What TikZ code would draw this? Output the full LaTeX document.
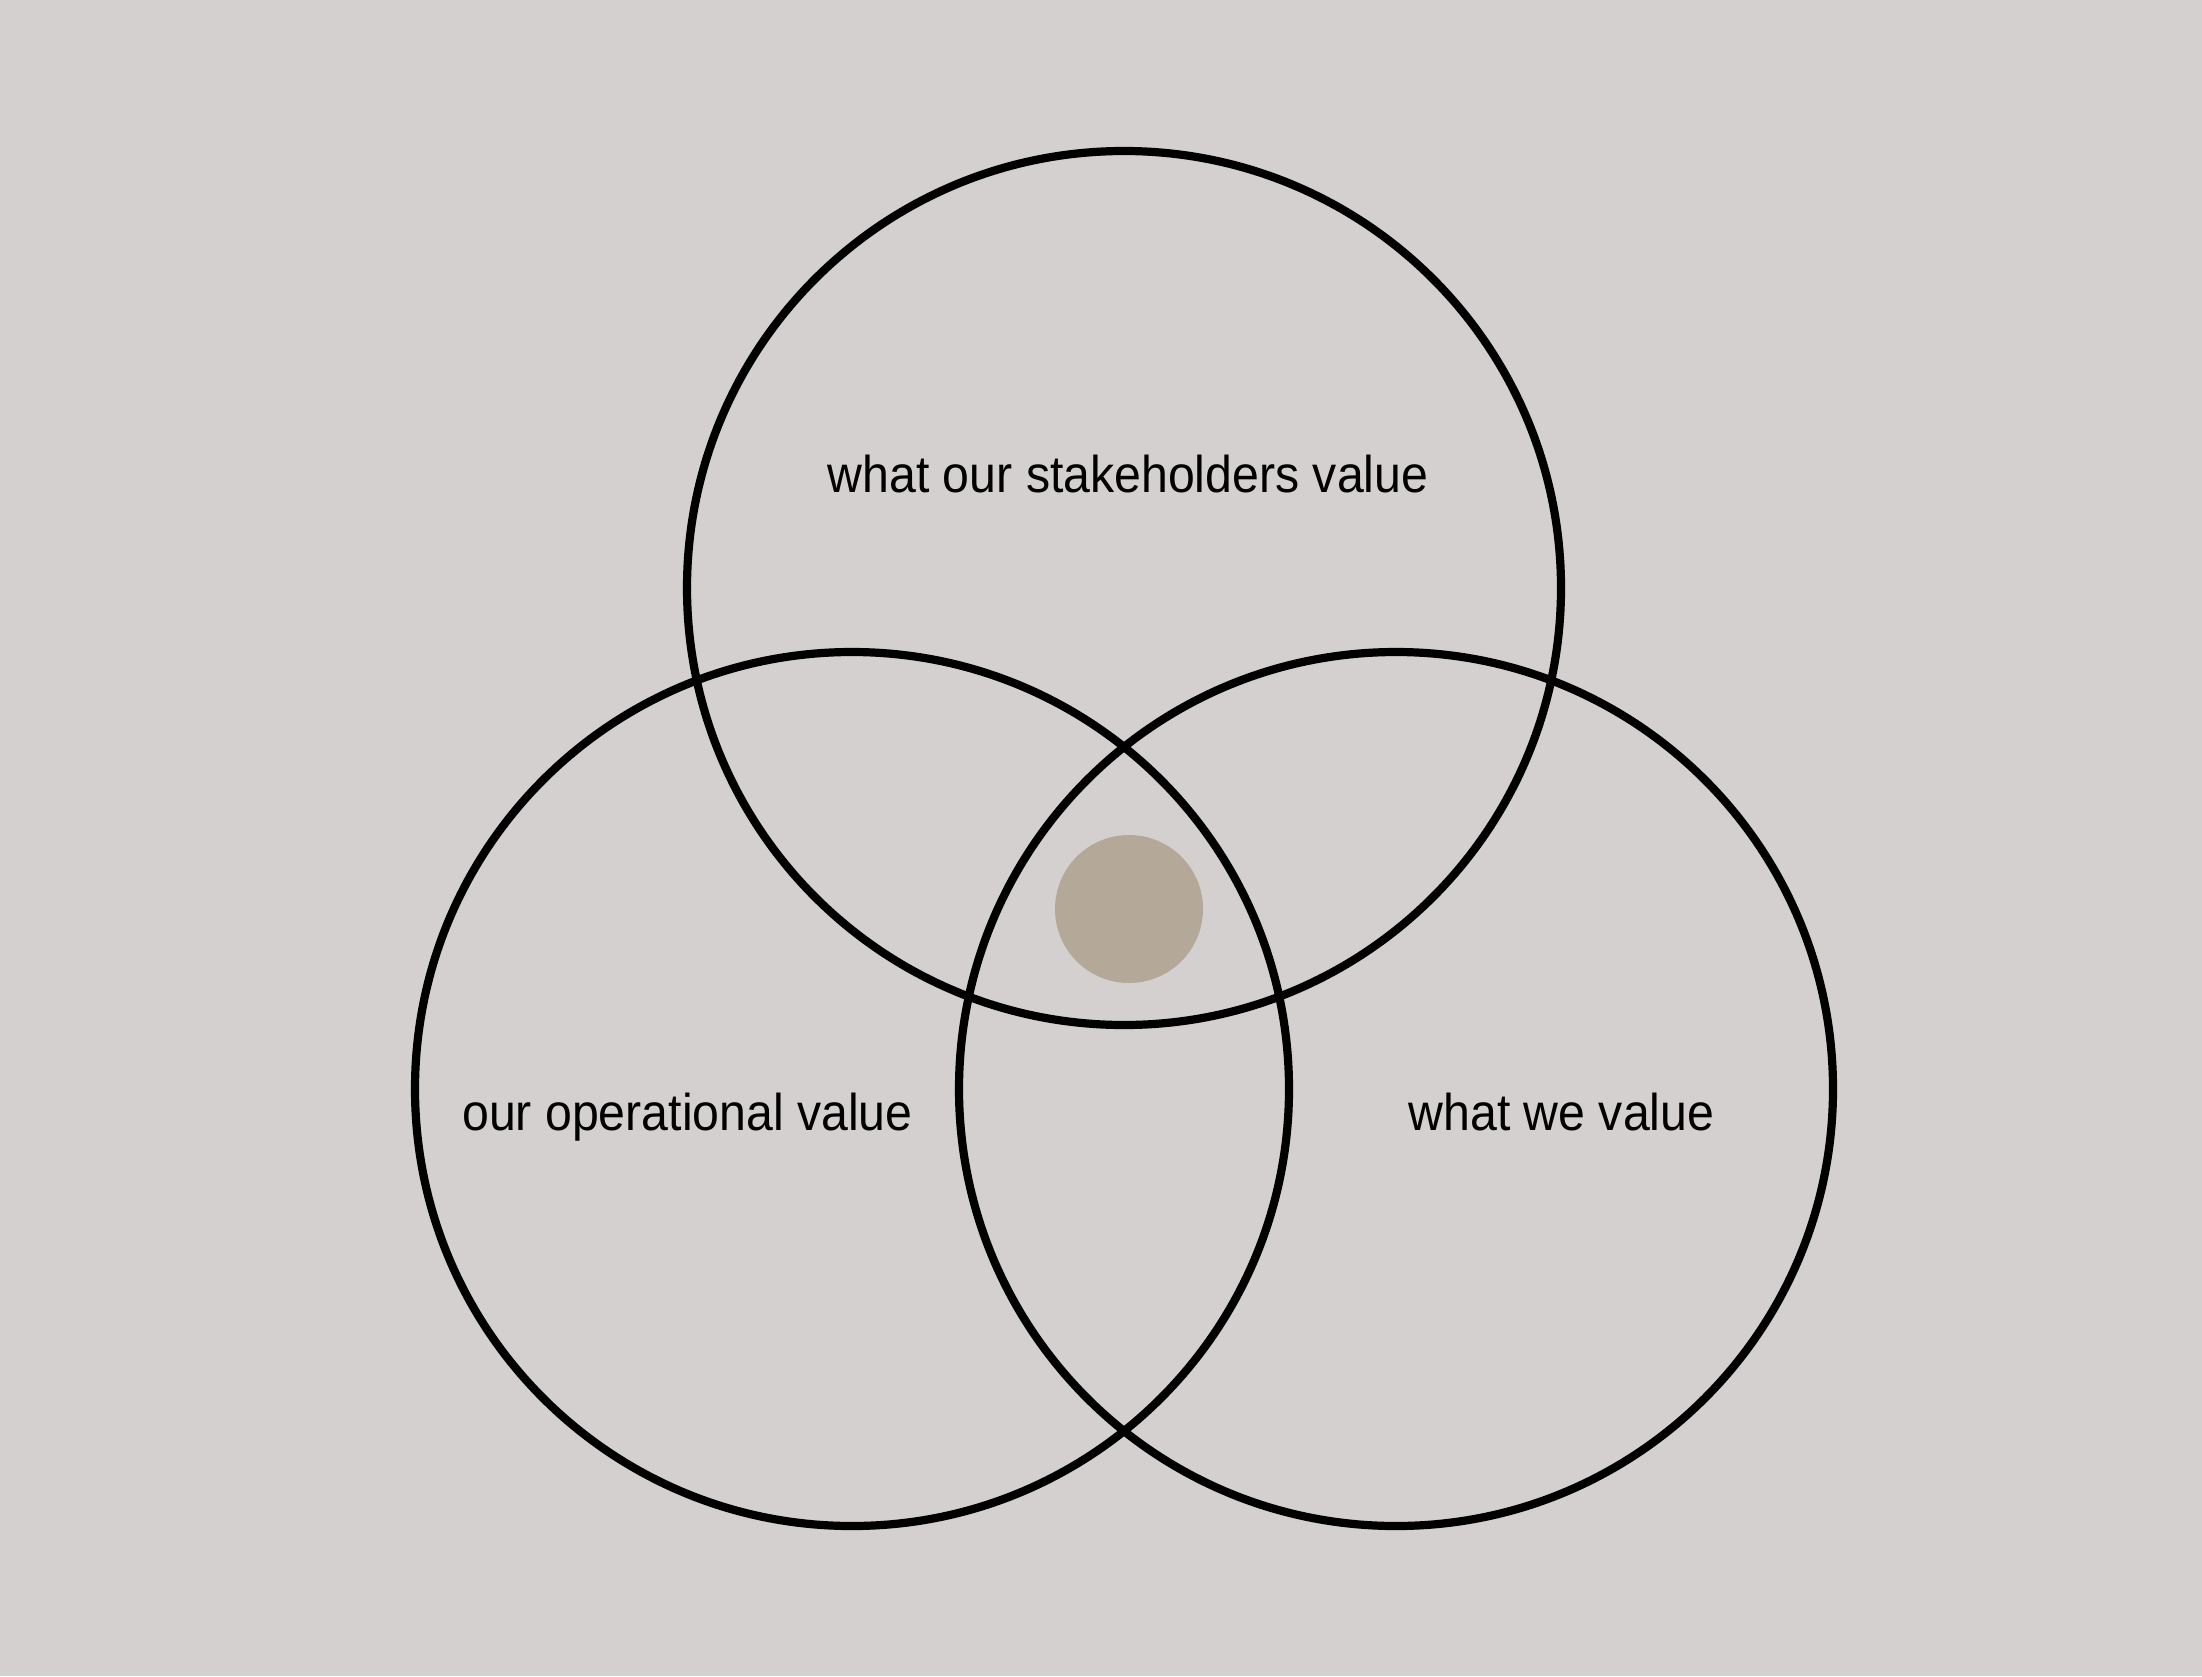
\documentclass[tikz,border=0pt]{standalone}
\usepackage{fontspec}
\setmainfont{Liberation Sans}[FakeStretch=0.933]
\definecolor{bgc}{RGB}{211,208,207}
\definecolor{dotc}{RGB}{180,168,152}
\begin{document}
\begin{tikzpicture}[x=1pt,y=-1pt,
  ring/.style={draw=black,line width=8.2pt},
  lbl/.style={anchor=base,inner sep=0pt,font=\fontsize{51.7}{60}\selectfont,text=black}]
\fill[bgc] (0,0) rectangle (2202,1676);
\useasboundingbox (0,0) rectangle (2202,1676);
\node[circle,fill=dotc,minimum size=148pt,inner sep=0pt] (dot) at (1129,909) {};
\node[ring,circle,minimum size=874pt,inner sep=0pt] (top) at (1124,588) {};
\node[ring,circle,minimum size=874pt,inner sep=0pt] (left) at (852,1089) {};
\node[ring,circle,minimum size=874pt,inner sep=0pt] (right) at (1396,1089) {};
\node[lbl] (ltop) at (1128,492) {what our stakeholders value};
\node[lbl] (lleft) at (687.5,1130) {our operational value};
\node[lbl] (lright) at (1561.5,1130) {what we value};
\end{tikzpicture}
\end{document}
